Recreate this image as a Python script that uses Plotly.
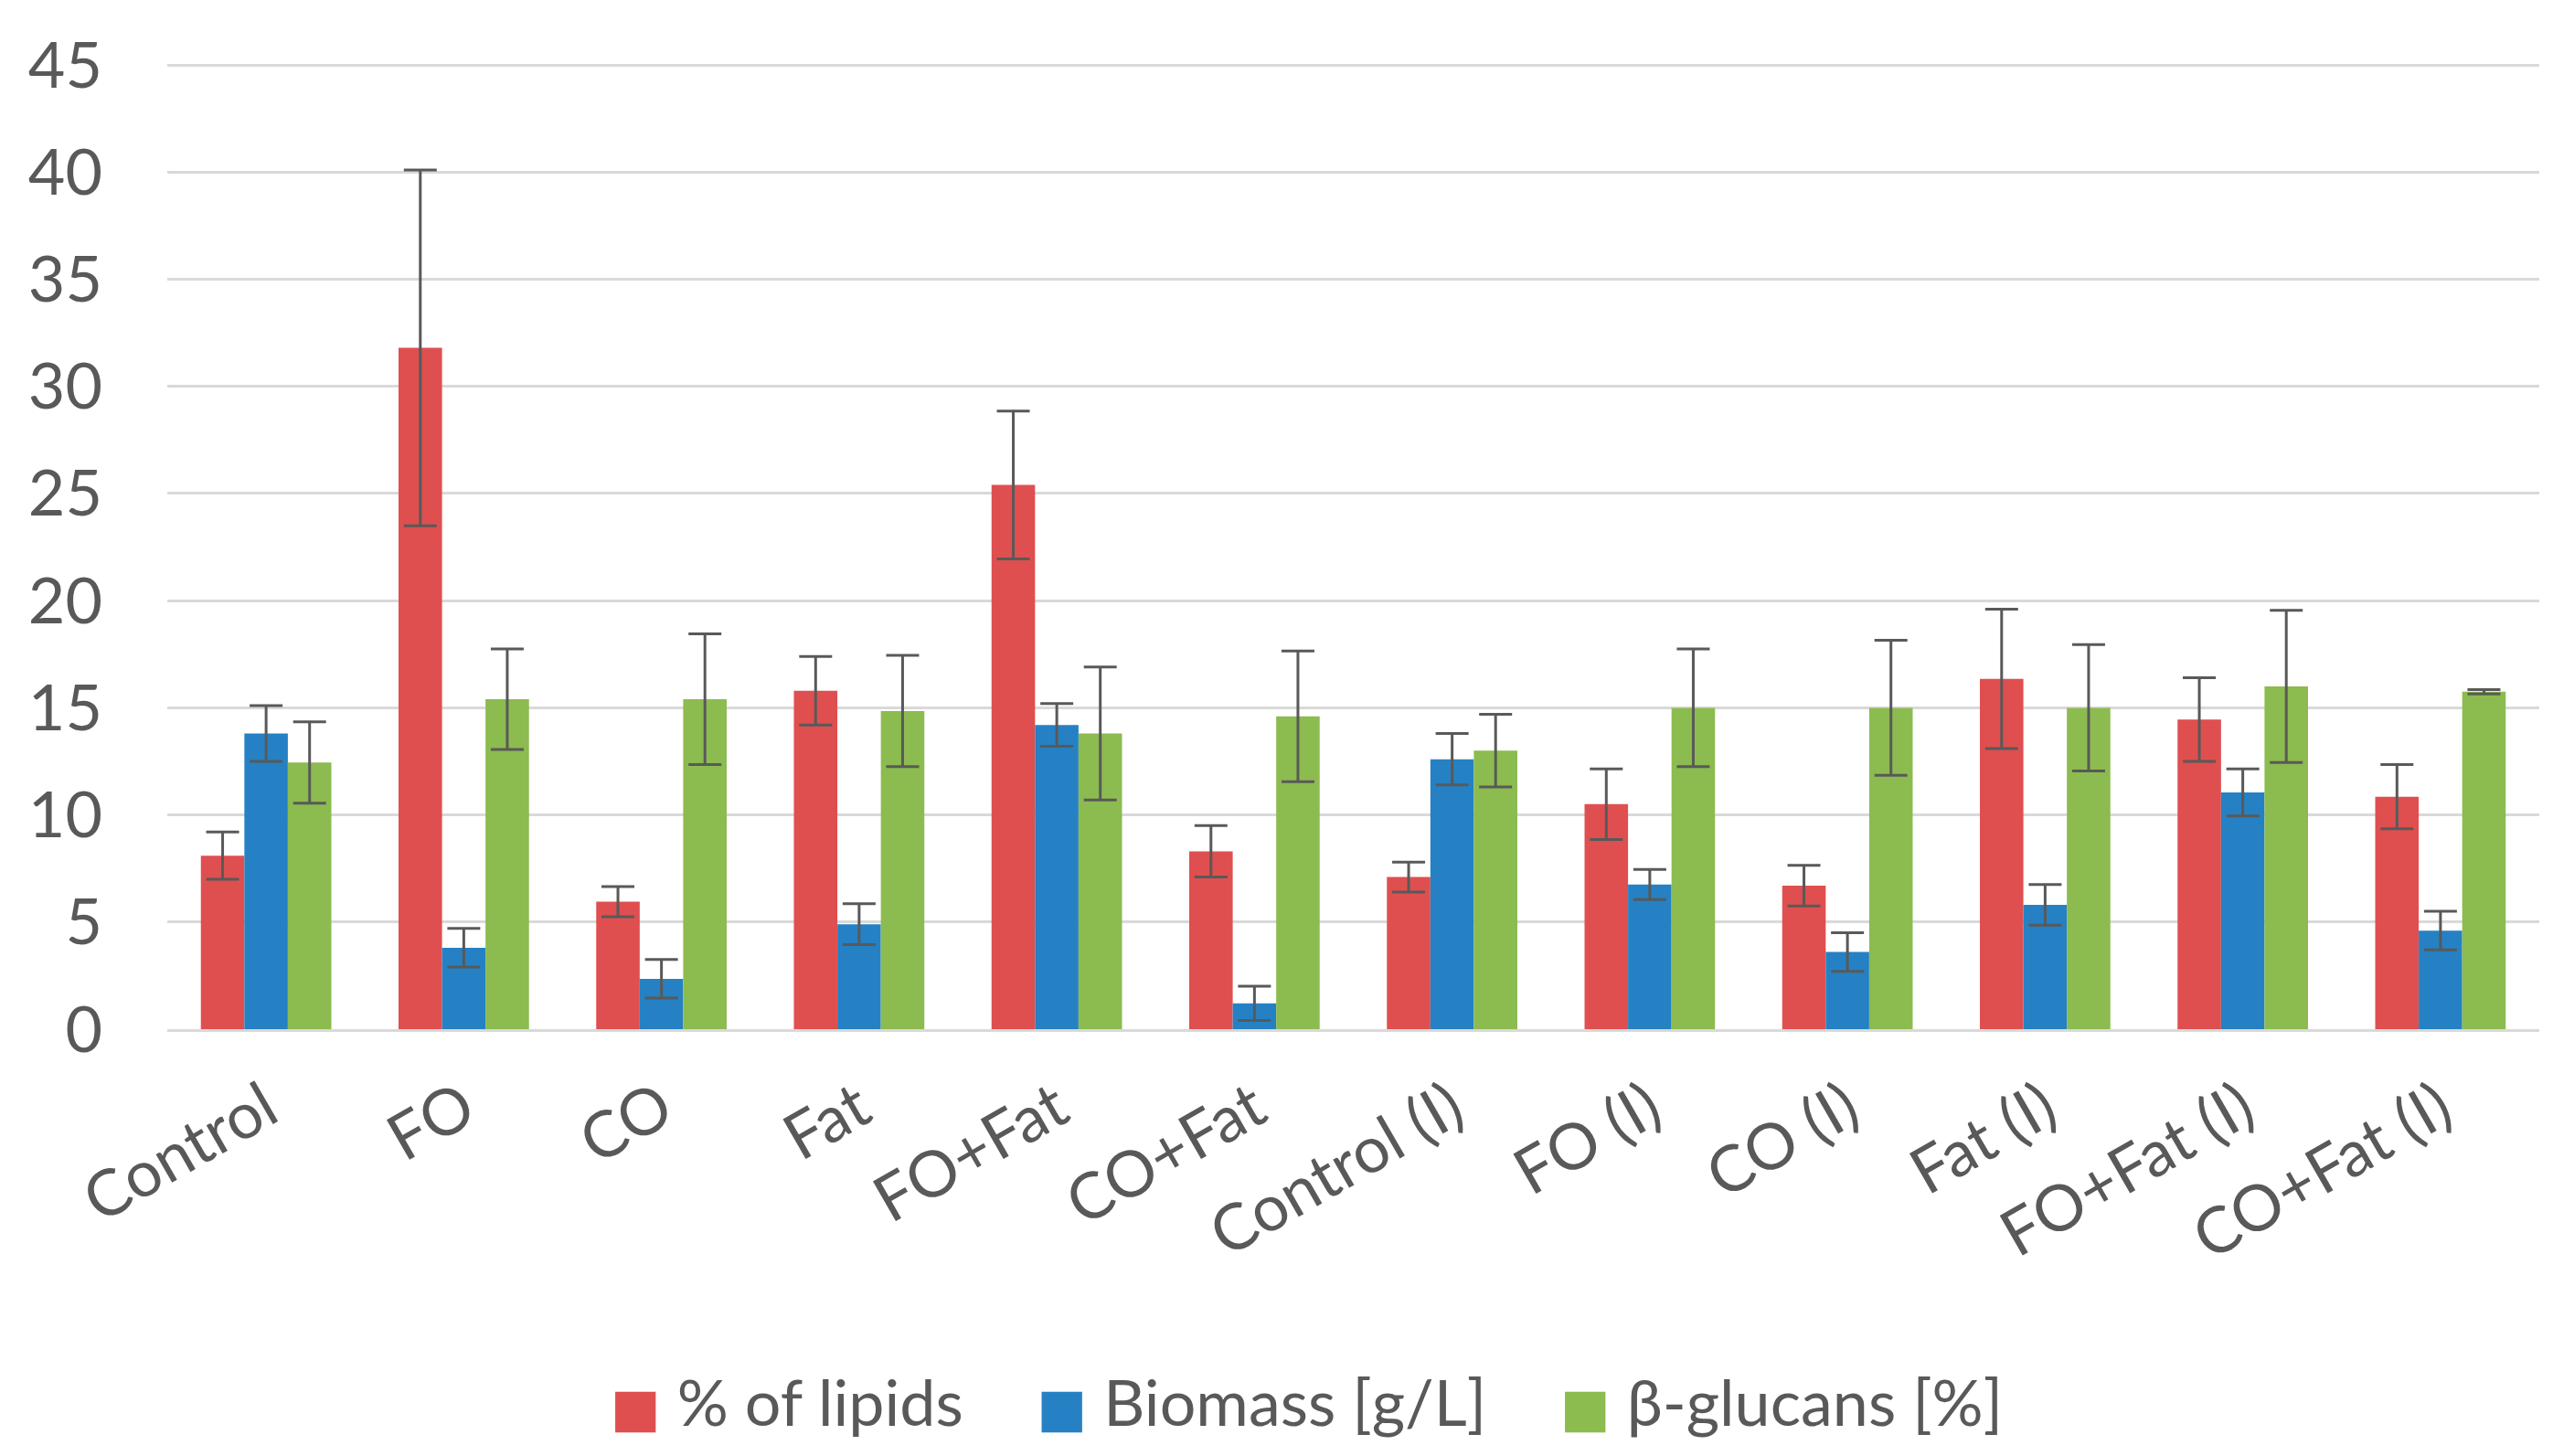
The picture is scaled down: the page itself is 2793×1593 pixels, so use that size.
import plotly.graph_objects as go

categories = ["Control", "FO", "CO", "Fat", "FO+Fat", "CO+Fat",
              "Control (I)", "FO (I)", "CO (I)", "Fat (I)", "FO+Fat (I)", "CO+Fat (I)"]

lipids = [8.1, 31.8, 5.95, 15.8, 25.4, 8.3, 7.1, 10.5, 6.7, 16.35, 14.45, 10.85]
lipids_err = [1.1, 8.3, 0.7, 1.6, 3.45, 1.2, 0.7, 1.65, 0.95, 3.25, 1.95, 1.5]

biomass = [13.8, 3.8, 2.35, 4.9, 14.2, 1.2, 12.6, 6.75, 3.6, 5.8, 11.05, 4.6]
biomass_err = [1.3, 0.9, 0.9, 0.95, 1.0, 0.8, 1.2, 0.7, 0.9, 0.95, 1.1, 0.9]

glucans = [12.45, 15.4, 15.4, 14.85, 13.8, 14.6, 13.0, 15.0, 15.0, 15.0, 16.0, 15.75]
glucans_err = [1.9, 2.35, 3.05, 2.6, 3.1, 3.05, 1.7, 2.75, 3.15, 2.95, 3.55, 0.1]

series_names = ["% of lipids", "Biomass [g/L]", "β-glucans [%]"]
colors = ["#DF4F4F", "#2581C4", "#8CBB4F"]

TEXT = "#595959"
FONT = "Lato, sans-serif"

fig = go.Figure()
for name, vals, errs, col in zip(series_names, [lipids, biomass, glucans],
                                 [lipids_err, biomass_err, glucans_err], colors):
    fig.add_trace(go.Bar(
        x=categories, y=vals, name=name, showlegend=False, legendgroup=name,
        marker=dict(color=col, line=dict(width=0)),
        error_y=dict(type="data", array=errs, visible=True,
                     color=TEXT, thickness=3, width=18),
    ))

# legend entries: large square glyph coloured like the series
for i, (name, col) in enumerate(zip(series_names, colors)):
    pad = "\u00a0" * 2 if i < len(series_names) - 1 else ""
    label = (f"<span style='color:{col};font-family:DejaVu Sans;font-size:58px'>■</span>"
             f"\u00a0{name}{pad}")
    fig.add_trace(go.Scatter(
        x=[None], y=[None], mode="markers", name=label, legendgroup=name,
        marker=dict(color="rgba(0,0,0,0)", size=2, line=dict(width=0)),
        hoverinfo="skip",
    ))

fig.update_layout(
    barmode="group",
    bargap=0.34,
    bargroupgap=0,
    width=2793, height=1593,
    paper_bgcolor="white", plot_bgcolor="white",
    margin=dict(l=175, r=23, t=62, b=475),
    font=dict(family=FONT, size=70, color=TEXT),
    xaxis=dict(tickangle=-30, tickfont=dict(size=70, color=TEXT),
               showline=True, linecolor="#D9D9D9", linewidth=3,
               ticks="", showgrid=False, ticklabelstandoff=16),
    yaxis=dict(range=[0, 45.05], tickvals=[0, 5, 10, 15, 20, 25, 30, 35, 40, 45],
               tickfont=dict(size=70, color=TEXT),
               showgrid=True, gridcolor="#D9D9D9", gridwidth=3,
               zeroline=False, showline=False, ticks="",
               ticklabelstandoff=70),
    legend=dict(orientation="h", x=0.1715, xanchor="left", y=-0.385, yanchor="middle",
                font=dict(size=70, color=TEXT), itemwidth=30,
                traceorder="normal", bgcolor="rgba(0,0,0,0)"),
    showlegend=True,
)

fig.write_html("out.html")
